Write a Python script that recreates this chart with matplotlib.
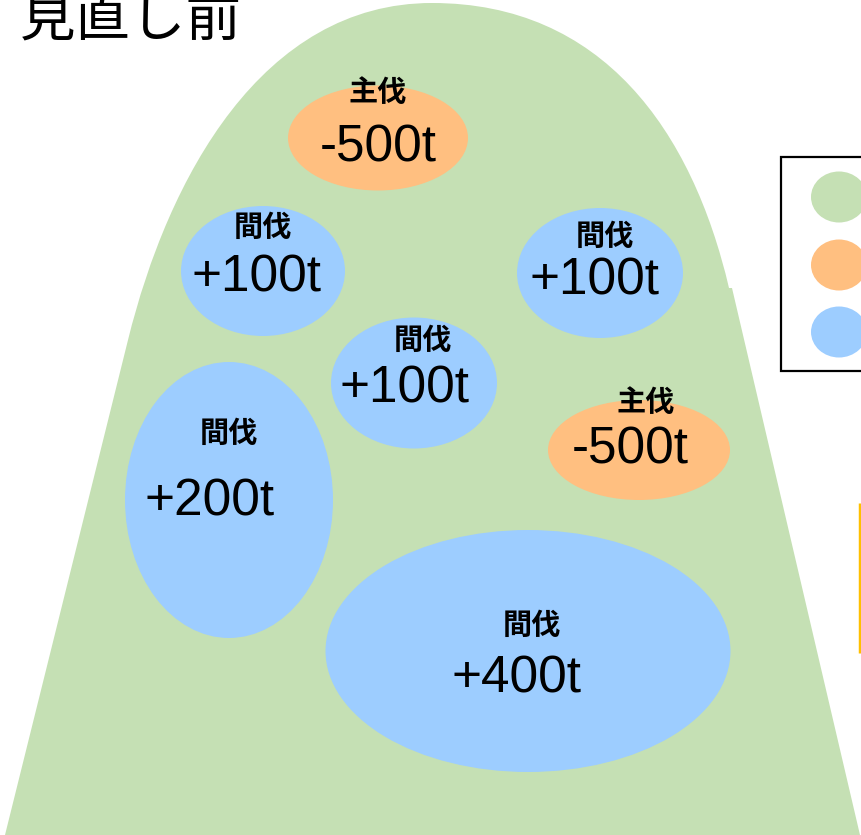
import matplotlib
matplotlib.use("Agg")
import matplotlib.pyplot as plt
from matplotlib.patches import Ellipse, PathPatch, Rectangle
from matplotlib.path import Path

# Harvest operations inside the stand (volume change in tonnes)
title = "見直し前"
operations = ["主伐", "間伐", "間伐", "間伐", "主伐", "間伐", "間伐"]
volumes = [-500, 100, 100, 100, -500, 200, 400]

# Layout of each operation bubble (pixel space: x right, y down)
centers = [(378, 138), (263, 271), (600, 273), (414, 383),
           (639, 450), (229, 500), (528, 651)]
sizes = [(180, 105), (164, 130), (166, 130), (166, 131),
         (182, 100), (208, 276), (405, 242)]
name_pos = [(378, 92), (263, 227), (605, 236), (423, 340),
            (646, 402), (229, 433), (532, 625)]
value_pos = [(378, 148), (257, 278), (595, 281), (404, 389),
             (630, 450), (210, 502), (516, 679)]

GREEN = "#C5E0B4"
ORANGE = "#FFBF80"
BLUE = "#9DCDFF"
colors = {"主伐": ORANGE, "間伐": BLUE}

W, H = 861, 835
fig = plt.figure(figsize=(W / 100, H / 100), dpi=100)
ax = fig.add_axes([0, 0, 1, 1])
ax.set_xlim(0, W)
ax.set_ylim(H, 0)
ax.axis("off")

# Mountain-shaped stand outline
verts = [
    (5, 835), (128, 340),
    (168, 178), (262, 3), (432, 3),
    (602, 3), (692, 130), (729, 288),
    (732, 288), (860, 835), (5, 835),
]
codes = [Path.MOVETO, Path.LINETO,
         Path.CURVE4, Path.CURVE4, Path.CURVE4,
         Path.CURVE4, Path.CURVE4, Path.CURVE4,
         Path.LINETO, Path.LINETO, Path.CLOSEPOLY]
ax.add_patch(PathPatch(Path(verts, codes), facecolor=GREEN, edgecolor="none"))

cjk = ["Noto Sans CJK JP", "DejaVu Sans"]
for op, v, c, s, npos, vpos in zip(operations, volumes, centers, sizes,
                                   name_pos, value_pos):
    ax.add_patch(Ellipse(c, s[0], s[1], facecolor=colors[op], edgecolor="none"))
    ax.text(npos[0], npos[1], op, ha="center", va="center", fontsize=21,
            fontweight="bold", family=cjk, color="black")
    ax.text(vpos[0], vpos[1], f"{v:+d}t", ha="center", va="center",
            fontsize=37, family=["Liberation Sans", "DejaVu Sans"], color="black")

# Title
ax.text(20, 35, title, ha="left", va="baseline", fontsize=40, family=cjk,
        color="black")

# Legend box (partially outside the canvas)
ax.add_patch(Rectangle((781, 157), 200, 214, facecolor="white",
                       edgecolor="black", linewidth=1.6))
legend_colors = [GREEN, ORANGE, BLUE]
legend_y = [197, 265, 332]
for col, ly in zip(legend_colors, legend_y):
    ax.add_patch(Ellipse((839, ly), 56, 51, facecolor=col, edgecolor="none"))

# Highlight marker on the right edge
ax.plot([859.5, 859.5], [503, 653], color="#FFC000", linewidth=2.5,
        solid_capstyle="butt")

fig.savefig("out.png", dpi=100)
